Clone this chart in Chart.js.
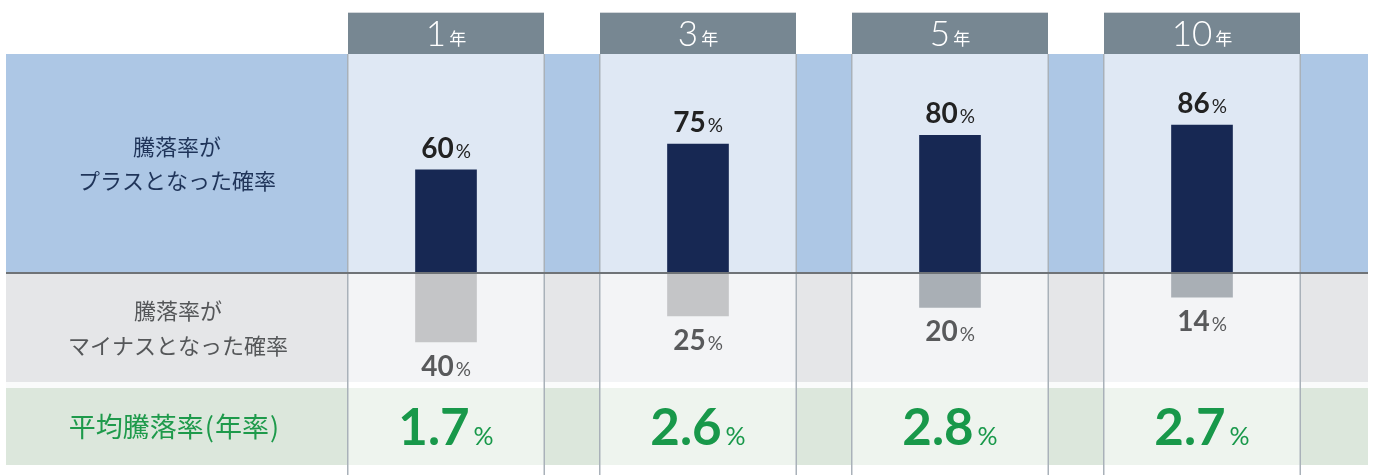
<!DOCTYPE html>
<html>
<head>
<meta charset="utf-8">
<script src="https://cdn.jsdelivr.net/npm/chart.js@4/dist/chart.umd.min.js"></script>
<style>
  html, body { margin: 0; padding: 0; background: #ffffff; }
  #wrap { width: 1375px; height: 475px; position: relative; }
</style>
</head>
<body>
<div id="wrap"><canvas id="c" width="1375" height="475"></canvas></div>
<script>
// ---- data ----
const periods = ['1年', '3年', '5年', '10年'];
const periodNums = ['1', '3', '5', '10'];
const plusRates = [60, 75, 80, 86];
const minusRates = [40, 25, 20, 14];
const avgReturns = [1.7, 2.6, 2.8, 2.7];
const rowLabelPlus = ['騰落率が', 'プラスとなった確率'];
const rowLabelMinus = ['騰落率が', 'マイナスとなった確率'];
const rowLabelAvgParts = ['平均騰落率', '(', '年率', ')'];

const minusColors = ['#c4c5c7', '#c4c5c7', '#a9afb5', '#a9afb5'];

const JP = '"Noto Sans CJK JP", "Noto Sans", sans-serif';
const NUM = 'Lato, "Open Sans", sans-serif';

function drawNumPct(ctx, x, y, num, numFont, pctFont, color, gap) {
  ctx.save();
  ctx.fillStyle = color;
  ctx.textBaseline = 'alphabetic';
  ctx.textAlign = 'left';
  ctx.font = numFont;
  const w1 = ctx.measureText(num).width;
  ctx.font = pctFont;
  const w2 = ctx.measureText('%').width;
  const total = w1 + gap + w2;
  const sx = x - total / 2;
  ctx.font = numFont;
  ctx.fillText(num, sx, y);
  ctx.font = pctFont;
  ctx.fillText('%', sx + w1 + gap, y);
  ctx.restore();
}

function drawParts(ctx, cx, y, parts, gaps) {
  const widths = parts.map(p => ctx.measureText(p).width);
  let total = widths.reduce((a, b) => a + b, 0) + gaps.reduce((a, b) => a + b, 0);
  let x = cx - total / 2;
  ctx.textAlign = 'left';
  parts.forEach((p, i) => {
    ctx.fillText(p, x, y);
    x += widths[i] + (gaps[i] || 0);
  });
}

const tablePlugin = {
  id: 'tablePlugin',
  beforeDraw(chart) {
    const ctx = chart.ctx;
    const xs = chart.scales.x, ys = chart.scales.y;
    const zeroY = ys.getPixelForValue(0);
    const bandL = 6, bandR = 1368;
    const blueTop = 54, grayBot = 382, greenTop = 388, greenBot = 465;
    ctx.save();
    ctx.fillStyle = '#ffffff';
    ctx.fillRect(0, 0, chart.width, chart.height);
    // bands
    ctx.fillStyle = '#adc7e5';
    ctx.fillRect(bandL, blueTop, bandR - bandL, zeroY - blueTop);
    ctx.fillStyle = '#e5e6e8';
    ctx.fillRect(bandL, zeroY, bandR - bandL, grayBot - zeroY);
    ctx.fillStyle = '#fafbfb';
    ctx.fillRect(bandL, grayBot, bandR - bandL, greenTop - grayBot);
    ctx.fillStyle = '#dce7dc';
    ctx.fillRect(bandL, greenTop, bandR - bandL, greenBot - greenTop);
    // columns
    const halfW = 98;
    periods.forEach((p, i) => {
      const cx = xs.getPixelForValue(i);
      const l = cx - halfW, r = cx + halfW;
      ctx.fillStyle = '#dfe8f4';
      ctx.fillRect(l, blueTop, r - l, zeroY - blueTop);
      ctx.fillStyle = '#f3f4f6';
      ctx.fillRect(l, zeroY, r - l, grayBot - zeroY);
      ctx.fillStyle = '#ffffff';
      ctx.fillRect(l, grayBot, r - l, greenTop - grayBot);
      ctx.fillStyle = '#eef4ee';
      ctx.fillRect(l, greenTop, r - l, greenBot - greenTop);
      ctx.fillStyle = '#ffffff';
      ctx.fillRect(l, greenBot, r - l, 475 - greenBot);
      // header
      ctx.fillStyle = '#778792';
      ctx.fillRect(l, 13, r - l, blueTop - 13);
      ctx.fillStyle = '#d3d7db';
      ctx.fillRect(l, 12, r - l, 1);
      // header text
      ctx.fillStyle = '#ffffff';
      ctx.textBaseline = 'alphabetic';
      ctx.textAlign = 'left';
      ctx.font = '300 35px ' + NUM;
      const nw = ctx.measureText(periodNums[i]).width;
      ctx.font = '400 17px ' + JP;
      const kw = ctx.measureText('年').width;
      const sx = cx - (nw + 3 + kw) / 2;
      ctx.font = '300 35px ' + NUM;
      ctx.fillText(periodNums[i], sx, 46);
      ctx.font = '400 17px ' + JP;
      ctx.fillText('年', sx + nw + 3, 45);
      // vertical borders
      ctx.fillStyle = '#a9b1b9';
      ctx.fillRect(l - 1, blueTop, 1.5, 475 - blueTop);
      ctx.fillRect(r - 0.5, blueTop, 1.5, 475 - blueTop);
    });
    // row labels
    ctx.textAlign = 'center';
    ctx.textBaseline = 'middle';
    ctx.font = '400 22px ' + JP;
    ctx.fillStyle = '#1f3459';
    ctx.fillText(rowLabelPlus[0], 177, 147);
    ctx.fillText(rowLabelPlus[1], 177, 181);
    ctx.fillStyle = '#555759';
    ctx.fillText(rowLabelMinus[0], 178, 311);
    ctx.fillText(rowLabelMinus[1], 178, 346);
    ctx.font = '400 27px ' + JP;
    ctx.fillStyle = '#1e9a4b';
    drawParts(ctx, 174, 427, rowLabelAvgParts, [1, 1, 1, 0]);
    ctx.restore();
  },
  afterDatasetsDraw(chart) {
    const ctx = chart.ctx;
    const xs = chart.scales.x, ys = chart.scales.y;
    const zeroY = ys.getPixelForValue(0);
    ctx.save();
    // divider
    ctx.fillStyle = '#6f7377';
    ctx.fillRect(6, zeroY - 1, 1362, 2);
    periods.forEach((p, i) => {
      const cx = xs.getPixelForValue(i);
      const topY = ys.getPixelForValue(plusRates[i]);
      drawNumPct(ctx, cx, topY - 12, String(plusRates[i]), '700 28px ' + NUM, '400 19px ' + NUM, '#222222', 2);
      const botY = ys.getPixelForValue(-minusRates[i]);
      drawNumPct(ctx, cx, botY + 34, String(minusRates[i]), '700 28px ' + NUM, '400 19px ' + NUM, '#58595b', 2);
      drawNumPct(ctx, cx, 445, avgReturns[i].toFixed(1), '700 51px ' + NUM, '400 25px ' + NUM, '#18984a', 4);
    });
    ctx.restore();
  }
};

new Chart(document.getElementById('c'), {
  type: 'bar',
  data: {
    labels: periods,
    datasets: [
      { label: 'プラス', data: plusRates, backgroundColor: '#172853', barThickness: 61 },
      { label: 'マイナス', data: minusRates.map(v => -v), backgroundColor: minusColors, barThickness: 61 }
    ]
  },
  options: {
    responsive: false,
    animation: false,
    devicePixelRatio: 1,
    layout: { padding: { left: 320, right: 47, top: 101, bottom: 30 } },
    plugins: { legend: { display: false }, tooltip: { enabled: false } },
    scales: {
      x: { stacked: true, display: false, offset: true, grid: { display: false } },
      y: { stacked: true, display: false, min: -100, max: 100, grid: { display: false } }
    }
  },
  plugins: [tablePlugin]
});
</script>
</body>
</html>
